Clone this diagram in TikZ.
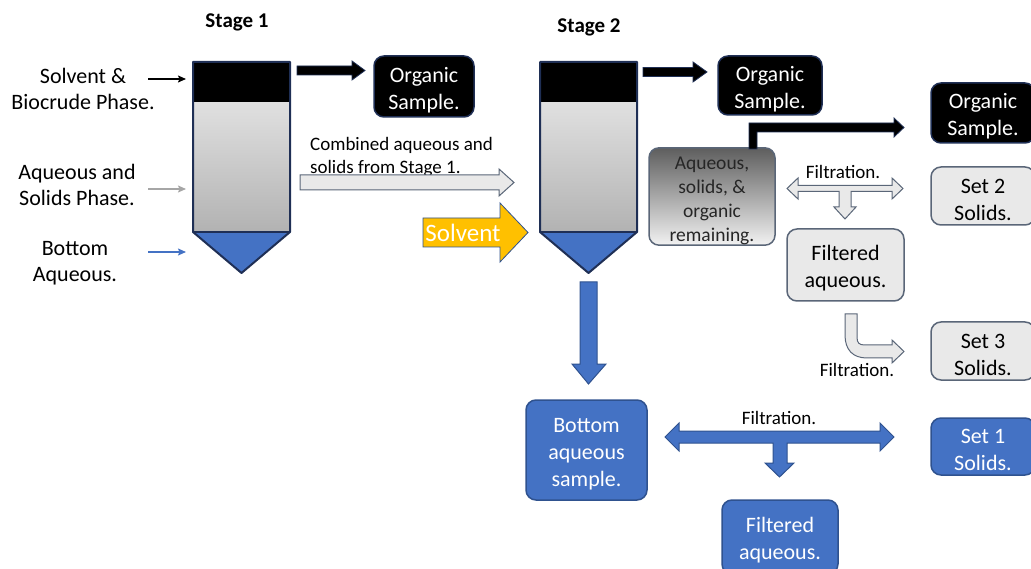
\documentclass[tikz,border=0pt]{standalone}
\usepackage{fontspec}
\setmainfont{Carlito}
\usetikzlibrary{arrows.meta}
\definecolor{blu}{HTML}{4472C4}
\definecolor{bluedge}{HTML}{2F528F}
\definecolor{navy}{HTML}{1F2F55}
\definecolor{lgray}{HTML}{E9E9E9}
\definecolor{gedge}{HTML}{5A6678}
\definecolor{ylw}{HTML}{FFC000}
\definecolor{tubetop}{HTML}{E0E0E0}
\definecolor{tubebot}{HTML}{B2B2B2}
\definecolor{aqtop}{HTML}{5E5E5E}
\definecolor{aqbot}{HTML}{F2F2F2}
\newcommand\topstr{\rule{0pt}{22pt}}
\tikzset{
  box/.style={rounded corners=10pt, line width=1.5pt, align=center, inner sep=0pt,
    font=\fontsize{22}{27}\selectfont},
  blackbox/.style={box, fill=black, draw=navy, text=white},
  graybox/.style={box, fill=lgray, draw=gedge, text=black},
  bluebox/.style={box, fill=blu, draw=bluedge, text=white},
  lbl/.style={align=center, inner sep=0pt, font=\fontsize{22}{26}\selectfont},
  small/.style={inner sep=0pt, font=\fontsize{19}{23}\selectfont},
  stagelbl/.style={inner sep=0pt, font=\fontsize{21}{24}\selectfont\bfseries},
  tubeline/.style={draw=navy, line width=2pt, line join=round},
  thin/.style={-{Stealth[length=8pt,width=7pt,inset=1.5pt]}, line width=1.4pt},
  hollow/.style={fill=lgray, draw=gedge, line width=1pt, line join=miter},
  bluearrow/.style={fill=blu, draw=bluedge, line width=1pt},
  blackarrow/.style={fill=black, draw=navy, line width=0.8pt}
}
\begin{document}
\begin{tikzpicture}[x=1pt,y=-1pt]
\useasboundingbox (0,0) rectangle (1031,569);
\clip (0,0) rectangle (1031,569);

% ---------- Stage labels
\node[stagelbl] (st1) at (237,22) {Stage 1};
\node[stagelbl] (st2) at (589,27) {Stage 2};

% ---------- Tube 1
\fill[black] (193,62) rectangle (290,103);
\shade[top color=tubetop, bottom color=tubebot] (193,103) rectangle (290,232);
\fill[blu] (193,232) -- (290,232) -- (241.5,273) -- cycle;
\draw[tubeline] (193,62) -- (290,62) -- (290,232) -- (241.5,273) -- (193,232) -- cycle;
\draw[tubeline] (193,232) -- (290,232);
\coordinate (t1a) at (186,79);
\coordinate (t1b) at (186,189);
\coordinate (t1c) at (186,252);

% ---------- Tube 2
\fill[black] (540,62) rectangle (637,103);
\shade[top color=tubetop, bottom color=tubebot] (540,103) rectangle (637,232);
\fill[blu] (540,232) -- (637,232) -- (588.5,273) -- cycle;
\draw[tubeline] (540,62) -- (637,62) -- (637,232) -- (588.5,273) -- (540,232) -- cycle;
\draw[tubeline] (540,232) -- (637,232);

% ---------- Left labels
\node[lbl] (l1) at (83,88.5) {Solvent \&\\Biocrude Phase.};
\node[lbl] (l2) at (77,184.5) {Aqueous and\\Solids Phase.};
\node[lbl] (l3) at (75,263.5) {Bottom\\Aqueous.};
\draw[thin, black] (148,79) -- (t1a);
\draw[thin, black!35] (148,189) -- (t1b);
\draw[thin, blu] (148,252) -- (t1c);

% ---------- Boxes
\node[blackbox, minimum width=100pt, minimum height=61pt] (org1) at (424,86.5) {\topstr Organic\\Sample.};
\node[blackbox, minimum width=104pt, minimum height=59pt] (org2) at (770,85.5) {\topstr Organic\\Sample.};
\node[blackbox, minimum width=104pt, minimum height=60pt] (org3) at (983,113) {\topstr Organic\\Sample.};
\node[box, draw=gedge, top color=aqtop, bottom color=aqbot, text=black!85,
      minimum width=126pt, minimum height=97pt, font=\fontsize{19.5}{24}\selectfont] (aq) at (712,196.5)
      {\topstr Aqueous,\\solids, \&\\organic\\remaining.};
\node[graybox, minimum width=104pt, minimum height=58pt] (set2) at (983,196) {\topstr Set 2\\Solids.};
\node[graybox, minimum width=117pt, minimum height=72pt] (fa1) at (845.5,265) {\topstr Filtered\\aqueous.};
\node[graybox, minimum width=104pt, minimum height=58pt] (set3) at (983,351) {\topstr Set 3\\Solids.};
\node[bluebox, minimum width=121pt, minimum height=100pt] (bas) at (586.5,450) {\topstr Bottom\\aqueous\\sample.};
\node[bluebox, minimum width=104pt, minimum height=57pt] (set1) at (983,446.5) {\topstr Set 1\\Solids.};
\node[bluebox, minimum width=116pt, minimum height=74pt] (fa2) at (780,537) {\topstr Filtered\\aqueous.};

% ---------- Black arrows to organic samples
\draw[blackarrow] (297,66) -- (352,66) -- (352,61) -- (365,70.5) -- (352,80) -- (352,75) -- (297,75) -- cycle;
\draw[blackarrow] (643,67.5) -- (693,67.5) -- (693,62) -- (707,72) -- (693,82) -- (693,76.5) -- (643,76.5) -- cycle;
\draw[blackarrow] (749,149) -- (749,123) -- (894,123) -- (894,118) -- (904,127.5) -- (894,137) -- (894,132) -- (757,132) -- (757,149) -- cycle;

% ---------- Combined aqueous arrow
\node[small, anchor=west, align=left] (comb) at (310,157.5) {Combined aqueous and\\solids from Stage 1.};
\draw[hollow] (300,175) -- (499,175) -- (499,169) -- (514,182.5) -- (499,196) -- (499,190) -- (300,190) -- cycle;

% ---------- Solvent arrow
\draw[fill=ylw, draw=bluedge, line width=0.8pt] (423,218) -- (500,218) -- (500,203) -- (528,232.5) -- (500,262) -- (500,247) -- (423,247) -- cycle;
\node[inner sep=0pt, text=white, font=\fontsize{25}{28}\selectfont] (solv) at (463,233) {Solvent};

% ---------- Upper filtration (gray)
\node[small] (f1) at (843,172) {Filtration.};
\draw[hollow] (787,188.5) -- (798,178) -- (798,185.5) -- (892,185.5) -- (892,178) -- (903,188.5) -- (892,199) -- (892,191.5)
  -- (851,191.5) -- (851,207) -- (856,207) -- (845,219) -- (834,207) -- (839,207) -- (839,191.5)
  -- (798,191.5) -- (798,199) -- cycle;

% ---------- Curved filtration arrow
\draw[hollow] (845,314) -- (857,314) -- (857,337) .. controls (857,343) and (859,345) .. (865,345) -- (892,345) -- (892,340)
  -- (904,351.5) -- (892,363) -- (892,358) -- (867,358) .. controls (853,358) and (845,350) .. (845,335) -- cycle;
\node[small] (f2) at (857,370) {Filtration.};

% ---------- Blue down arrow from tube 2
\draw[bluearrow] (580,282) -- (597,282) -- (597,364) -- (606,364) -- (588.5,384) -- (572,364) -- (580,364) -- cycle;

% ---------- Lower filtration (blue)
\node[small] (f3) at (779,418) {Filtration.};
\draw[bluearrow] (665,437) -- (679,423) -- (679,431) -- (880,431) -- (880,423) -- (894,437) -- (880,451) -- (880,443)
  -- (787,443) -- (787,463) -- (794,463) -- (779.5,477) -- (765,463) -- (773,463) -- (773,443)
  -- (679,443) -- (679,451) -- cycle;
\end{tikzpicture}
\end{document}
